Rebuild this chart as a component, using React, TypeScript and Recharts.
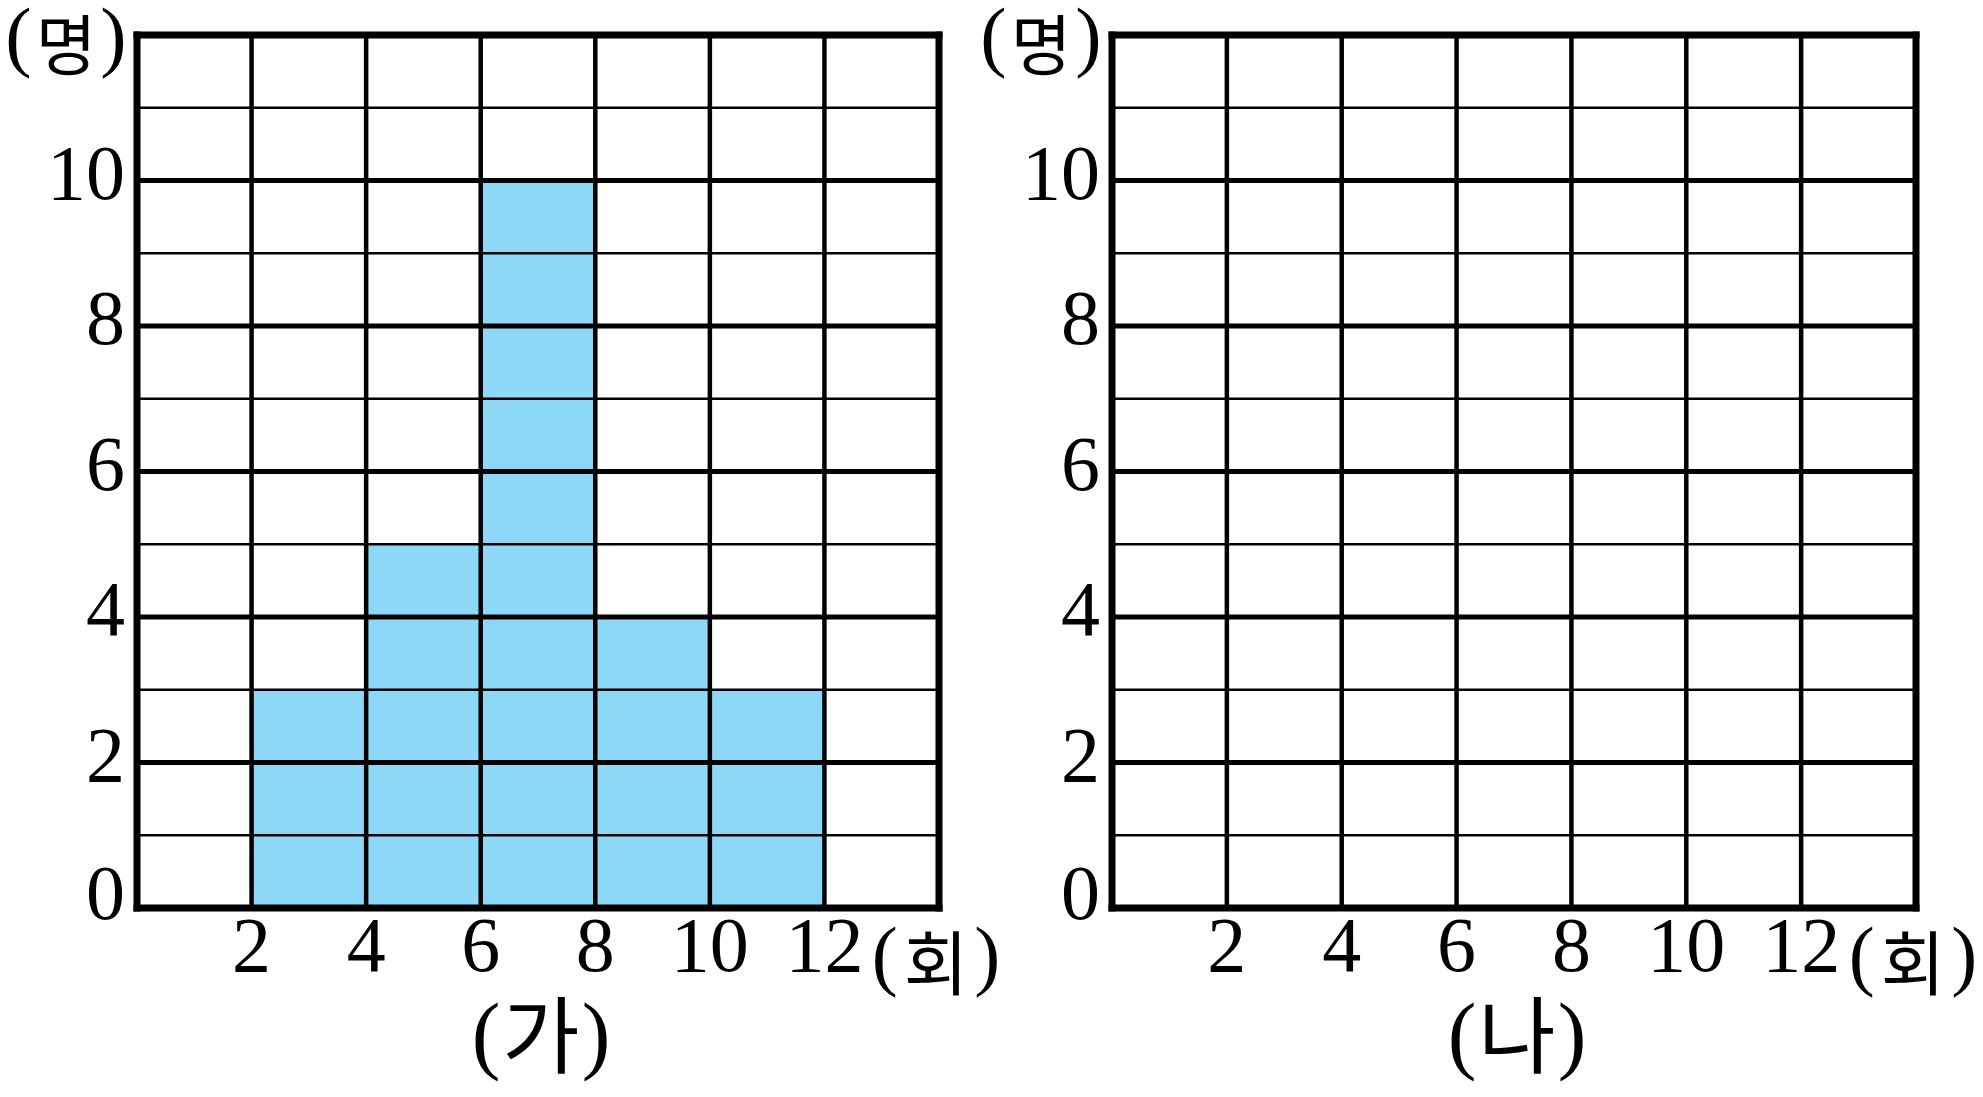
import { BarChart, Bar, XAxis, YAxis, ReferenceLine } from 'recharts';

const bins = ['0~2', '2~4', '4~6', '6~8', '8~10', '10~12', '12~14'];
const binMids = [1, 3, 5, 7, 9, 11, 13];
const countsGa = [0, 3, 5, 10, 4, 3, 0];
const countsNa: (number | null)[] = [null, null, null, null, null, null, null];
const xTicks = [2, 4, 6, 8, 10, 12];
const yTicks = [0, 2, 4, 6, 8, 10];
const yMajorLines = [2, 4, 6, 8, 10];
const yMinorLines = [1, 3, 5, 7, 9, 11];

const FONT = "'Liberation Serif', 'Noto Sans CJK KR', serif";
const KR_FONT = "'Noto Sans CJK KR', sans-serif";
const BAR_COLOR = '#8ed8f7';
const PLOT_LEFT = 137;
const PLOT_TOP = 35;
const PLOT_BOTTOM = 908;

const XTick = ({ x, y, payload }: any) => (
  <text x={x} y={y + 33} textAnchor="middle" fontFamily={FONT} fontSize={78} fill="#000">
    {payload.value}
  </text>
);

const YTick = ({ x, y, payload }: any) => (
  <text
    x={x}
    y={y + (payload.value === 0 ? 11 : 18)}
    textAnchor="end"
    fontFamily={FONT}
    fontSize={78}
    fill="#000"
  >
    {payload.value}
  </text>
);

// paren + hangul + paren, hangul sized to sit inside the serif parens
const UnitText = ({ x, y, size, krSize, krDy, gap, word }: any) => (
  <text x={x} y={y} textAnchor="middle" fontFamily={FONT} fontSize={size} fill="#000">
    (
    <tspan fontFamily={KR_FONT} fontSize={krSize} dy={krDy} dx={gap}>
      {word}
    </tspan>
    <tspan dy={-krDy} dx={gap}>
      )
    </tspan>
  </text>
);

type PanelProps = {
  counts: (number | null)[];
  title: string;
  left: number;
  width: number;
  plotWidth: number;
};

const Panel = ({ counts, title, left, width, plotWidth }: PanelProps) => {
  const data = bins.map((bin, i) => ({ bin, mid: binMids[i], count: counts[i] }));
  const plotRight = PLOT_LEFT + plotWidth;
  return (
    <div style={{ position: 'absolute', left, top: 0 }}>
      <BarChart
        width={width}
        height={1097}
        data={data}
        barCategoryGap={0}
        margin={{ top: PLOT_TOP, right: width - plotRight, bottom: 0, left: 0 }}
      >
        <XAxis xAxisId="cat" dataKey="bin" hide />
        <XAxis
          xAxisId="num"
          dataKey="mid"
          type="number"
          domain={[0, 14]}
          ticks={xTicks}
          allowDataOverflow
          height={1097 - PLOT_BOTTOM}
          axisLine={false}
          tickLine={false}
          tickSize={0}
          tickMargin={0}
          tick={<XTick />}
          label={{
            content: () => (
              <g>
                <UnitText x={plotRight - 3} y={PLOT_BOTTOM + 73} size={78} krSize={70} krDy={9} gap={6} word="회" />
                <UnitText
                  x={(PLOT_LEFT + plotRight) / 2 + 3}
                  y={PLOT_BOTTOM + 155}
                  size={86}
                  krSize={84}
                  krDy={4}
                  gap={2}
                  word={title}
                />
              </g>
            ),
          }}
        />
        <YAxis
          yAxisId="y"
          type="number"
          domain={[0, 12]}
          ticks={yTicks}
          allowDataOverflow
          width={PLOT_LEFT}
          axisLine={false}
          tickLine={false}
          tickSize={0}
          tickMargin={12}
          tick={<YTick />}
          label={{
            content: () => <UnitText x={66} y={62} size={79} krSize={66} krDy={8} gap={4} word="명" />,
          }}
        />
        <Bar xAxisId="cat" yAxisId="y" dataKey="count" fill={BAR_COLOR} isAnimationActive={false} />
        {yMinorLines.map((v) => (
          <ReferenceLine key={`m${v}`} xAxisId="num" yAxisId="y" y={v} stroke="#000" strokeWidth={2.7} />
        ))}
        {yMajorLines.map((v) => (
          <ReferenceLine key={`M${v}`} xAxisId="num" yAxisId="y" y={v} stroke="#000" strokeWidth={5} />
        ))}
        {xTicks.map((v) => (
          <ReferenceLine key={`v${v}`} xAxisId="num" yAxisId="y" x={v} stroke="#000" strokeWidth={4.5} />
        ))}
        {[0, 12].map((v) => (
          <ReferenceLine
            key={`by${v}`}
            xAxisId="num"
            yAxisId="y"
            y={v}
            stroke="#000"
            strokeWidth={7}
            strokeLinecap="square"
          />
        ))}
        {[0, 14].map((v) => (
          <ReferenceLine
            key={`bx${v}`}
            xAxisId="num"
            yAxisId="y"
            x={v}
            stroke="#000"
            strokeWidth={7}
            strokeLinecap="square"
          />
        ))}
      </BarChart>
    </div>
  );
};

export default function App() {
  return (
    <div style={{ position: 'absolute', left: 0, top: 0, width: 1983, height: 1097, background: '#fff' }}>
      <Panel counts={countsGa} title="가" left={0} width={1010} plotWidth={802} />
      <Panel counts={countsNa} title="나" left={975} width={1008} plotWidth={804} />
    </div>
  );
}
